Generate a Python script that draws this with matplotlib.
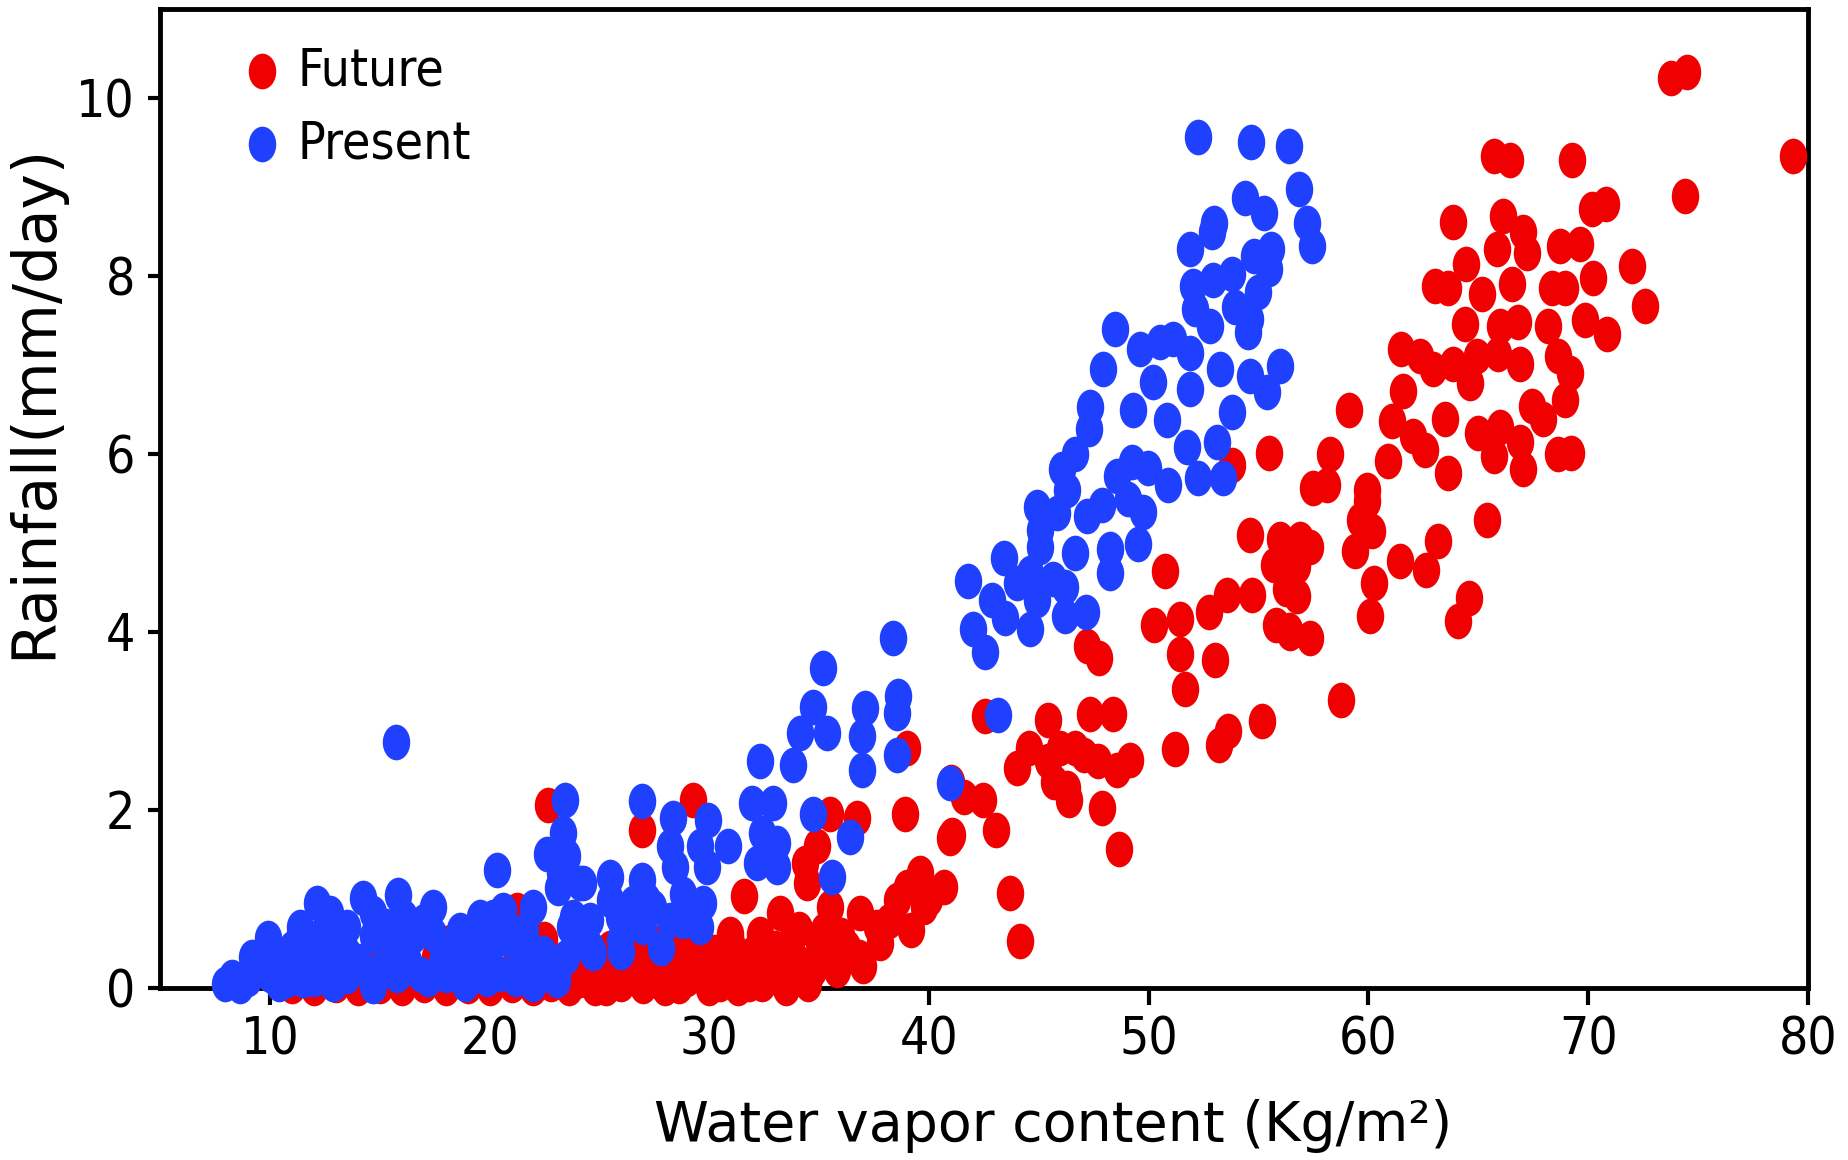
import numpy as np
import matplotlib
matplotlib.use("Agg")
import matplotlib.pyplot as plt
from matplotlib.path import Path
from matplotlib.transforms import Affine2D

# Future run: water vapour content (kg/m2) and rainfall (mm/day)
future_wv = [
    73.76, 74.49, 79.34, 74.41, 65.69, 66.44, 69.25, 63.86, 70.16, 70.81,
    66.14, 67.05, 65.84, 67.20, 64.44, 68.72, 69.63, 71.98, 63.03, 63.64,
    65.15, 66.52, 68.34, 68.95, 70.24, 72.59, 64.37, 65.99, 66.82, 68.19,
    69.86, 70.84, 61.47, 62.35, 62.95, 63.86, 64.93, 65.91, 66.90, 68.64,
    69.18, 64.62, 61.59, 68.95, 67.43, 67.96, 59.13, 61.06, 62.04, 63.49,
    62.57, 65.00, 65.99, 66.90, 65.69, 67.05, 68.64, 69.20, 60.91, 63.64,
    58.25, 59.92, 55.45, 53.78, 57.49, 58.10, 59.95, 59.62, 54.61, 55.98,
    56.89, 60.15, 59.39, 57.34, 56.73, 56.73, 56.43, 57.34, 60.25, 60.07,
    61.44, 63.18, 62.62, 65.38, 64.59, 64.09, 58.75, 54.72, 53.54, 52.74,
    51.40, 50.22, 50.76, 53.00, 51.40, 51.67, 55.69, 56.50, 55.80, 56.39,
    56.23, 55.16, 42.54, 40.98, 41.59, 42.46, 43.07, 41.04, 43.68, 44.16,
    40.02, 34.09, 33.90, 47.20, 47.75, 53.60, 53.20, 51.20, 49.16, 48.55,
    47.85, 48.64, 45.42, 44.02, 44.55, 45.42, 45.94, 46.64, 45.68, 46.38,
    46.29, 47.07, 47.68, 47.33, 48.39, 29.28, 26.93, 39.00, 35.50, 36.71,
    38.91, 40.96, 34.89, 34.36, 34.44, 31.56, 39.60, 40.66, 38.99, 38.54,
    39.75, 33.23, 35.50, 36.87, 37.63, 32.31, 33.83, 35.20, 36.26, 37.78,
    30.95, 31.10, 30.49, 29.28, 28.37, 27.76, 26.55, 25.49, 24.12, 26.85,
    33.23, 33.98, 35.35, 29.89, 32.01, 22.68, 16.68, 11.37, 21.24, 19.87,
    11.00, 12.00, 13.00, 14.00, 15.00, 16.00, 17.00, 18.00, 19.00, 20.00,
    21.00, 22.00, 22.80, 23.60, 25.30, 27.00, 27.80, 28.60, 12.50, 14.50,
    17.50, 19.00, 21.00, 23.00, 24.00, 25.50, 26.50, 27.50, 18.00, 22.50,
    31.80, 32.80, 34.70, 24.80, 26.00, 28.00, 29.00, 30.00, 31.30, 32.40,
    33.50, 34.50, 35.80, 36.80, 24.40, 25.90, 27.20, 28.80, 30.20, 31.80,
    33.00, 34.00, 35.00, 36.00, 37.00, 38.20, 39.20, 23.20, 29.50, 31.00,
]
future_rain = [
    10.22, 10.29, 9.35, 8.90, 9.35, 9.30, 9.30, 8.61, 8.75, 8.81,
    8.68, 8.49, 8.30, 8.26, 8.13, 8.34, 8.36, 8.11, 7.89, 7.87,
    7.80, 7.91, 7.87, 7.87, 7.98, 7.66, 7.46, 7.44, 7.48, 7.44,
    7.51, 7.35, 7.18, 7.10, 6.95, 7.01, 7.10, 7.12, 7.01, 7.10,
    6.91, 6.80, 6.71, 6.61, 6.54, 6.39, 6.50, 6.37, 6.20, 6.39,
    6.05, 6.24, 6.30, 6.13, 5.98, 5.83, 6.00, 6.01, 5.92, 5.79,
    6.00, 5.60, 6.01, 5.88, 5.62, 5.65, 5.47, 5.26, 5.09, 5.05,
    5.05, 5.13, 4.91, 4.96, 4.74, 4.40, 3.99, 3.93, 4.55, 4.18,
    4.80, 5.02, 4.70, 5.26, 4.38, 4.12, 3.24, 4.42, 4.42, 4.22,
    4.15, 4.08, 4.68, 3.69, 3.75, 3.36, 4.75, 4.81, 4.08, 4.02,
    4.48, 3.00, 3.06, 2.31, 2.15, 2.11, 1.77, 1.72, 1.07, 0.53,
    1.00, 0.66, 0.25, 3.84, 3.71, 2.89, 2.73, 2.69, 2.56, 2.45,
    2.02, 1.56, 3.01, 2.47, 2.70, 2.55, 2.70, 2.70, 2.32, 2.11,
    2.25, 2.62, 2.55, 3.08, 3.08, 2.11, 1.78, 2.70, 1.96, 1.91,
    1.95, 1.68, 1.59, 1.40, 1.18, 1.03, 1.29, 1.14, 1.14, 0.99,
    0.91, 0.84, 0.91, 0.84, 0.69, 0.61, 0.58, 0.65, 0.46, 0.50,
    0.61, 0.31, 0.05, 0.31, 0.54, 0.24, 0.31, 0.13, 0.09, 0.16,
    0.31, 0.13, 0.39, 0.16, 0.39, 2.06, 0.69, 0.61, 0.88, 0.54,
    0.02, 0.00, 0.03, 0.00, 0.02, 0.00, 0.03, 0.00, 0.02, 0.00,
    0.03, 0.00, 0.05, 0.00, 0.00, 0.02, 0.06, 0.02, 0.25, 0.30,
    0.35, 0.25, 0.20, 0.30, 0.40, 0.45, 0.60, 0.50, 0.50, 0.55,
    0.05, 0.12, 0.20, 0.00, 0.05, 0.00, 0.10, 0.00, 0.00, 0.05,
    0.00, 0.05, 0.20, 0.35, 0.25, 0.30, 0.40, 0.35, 0.40, 0.35,
    0.45, 0.30, 0.50, 0.60, 0.25, 0.75, 0.65, 0.15, 0.55, 0.50,
]

# Present run
present_wv = [
    52.25, 54.66, 56.37, 56.83, 54.39, 55.26, 57.21, 57.42, 52.99, 52.90,
    51.90, 55.57, 55.45, 54.77, 53.78, 52.00, 52.94, 54.99, 52.11, 53.93,
    54.61, 52.79, 48.47, 54.53, 50.52, 49.61, 51.12, 51.88, 47.94, 55.98,
    54.61, 53.25, 50.21, 51.88, 55.37, 47.33, 49.30, 50.82, 53.78, 51.73,
    53.10, 52.26, 53.37, 49.23, 49.98, 50.89, 49.76, 49.07, 49.53,
    47.26, 46.65, 46.04, 46.27, 44.90, 45.81, 47.18, 47.86, 48.55, 45.06,
    45.06, 43.39, 46.65, 48.24, 48.24, 41.79, 44.60, 45.66, 44.00, 46.19,
    42.86, 44.90, 43.46, 44.60, 42.02, 46.19, 47.15, 42.55, 38.38, 35.19,
    34.74, 37.09, 38.61, 43.16,
    23.44, 23.36, 23.51, 23.21, 26.93, 28.37, 29.96, 28.22, 29.58, 30.87,
    29.89, 28.45, 32.31, 34.14, 35.35, 33.83, 38.54, 36.94, 36.94, 38.54,
    31.93, 32.92, 34.74, 36.41, 32.39, 33.07, 32.16, 33.07, 35.58, 40.96,
    25.49, 26.93, 24.12, 28.82, 29.73, 28.22, 29.58, 27.00, 25.49, 23.82,
    24.58, 25.87, 27.16,
    15.73, 22.60, 24.27, 23.13, 20.36, 21.99, 20.17, 20.63, 23.66, 24.57,
    24.73, 23.06, 21.69, 20.48, 19.26, 18.66, 17.44, 15.85, 14.26, 14.71,
    12.13, 12.74, 11.37, 9.93, 9.55, 7.96, 8.64, 10.77, 11.83, 13.50,
    12.89, 14.71, 15.62, 16.84, 16.53, 17.90, 14.71, 13.50, 12.28, 21.39,
    22.45, 25.94, 26.55, 27.46, 19.57, 11.52, 13.50, 17.44, 18.35, 19.87,
    9.00, 10.20, 13.00, 15.00, 16.00, 18.90, 20.00, 22.00, 17.20, 11.00,
    8.30, 9.20, 10.00, 10.80, 11.50, 12.50, 13.20, 14.00, 15.30, 16.30,
    17.00, 18.00, 18.80, 19.50, 20.80, 21.60, 22.30, 23.50, 26.00, 27.80,
    28.80, 26.50, 10.40, 12.00, 15.80, 19.90, 21.20, 24.30, 17.80, 16.10,
]
present_rain = [
    9.56, 9.51, 9.46, 8.98, 8.88, 8.71, 8.60, 8.34, 8.60, 8.49,
    8.30, 8.30, 8.08, 8.22, 8.02, 7.89, 7.96, 7.82, 7.63, 7.65,
    7.52, 7.44, 7.40, 7.37, 7.26, 7.18, 7.29, 7.14, 6.96, 6.99,
    6.88, 6.96, 6.81, 6.73, 6.70, 6.53, 6.49, 6.38, 6.47, 6.08,
    6.14, 5.73, 5.73, 5.91, 5.84, 5.65, 5.35, 5.50, 4.99,
    6.28, 6.00, 5.83, 5.60, 5.40, 5.34, 5.30, 5.43, 5.75, 5.15,
    4.96, 4.83, 4.89, 4.93, 4.66, 4.57, 4.66, 4.59, 4.55, 4.51,
    4.36, 4.36, 4.16, 4.03, 4.03, 4.18, 4.23, 3.78, 3.93, 3.60,
    3.16, 3.15, 3.28, 3.07,
    2.11, 1.74, 1.48, 1.29, 2.10, 1.91, 1.89, 1.59, 1.59, 1.59,
    1.36, 1.36, 2.55, 2.86, 2.86, 2.51, 3.09, 2.83, 2.45, 2.62,
    2.08, 2.08, 1.96, 1.70, 1.74, 1.63, 1.40, 1.36, 1.25, 2.30,
    1.25, 1.21, 1.18, 1.06, 0.95, 0.76, 0.69, 0.69, 0.99, 0.80,
    0.46, 0.80, 0.99,
    2.76, 1.51, 1.18, 1.12, 1.33, 0.91, 0.80, 0.88, 0.69, 0.76,
    0.39, 0.09, 0.24, 0.16, 0.13, 0.65, 0.91, 1.05, 1.01, 0.84,
    0.95, 0.84, 0.69, 0.56, 0.24, 0.05, 0.02, 0.09, 0.31, 0.39,
    0.05, 0.02, 0.39, 0.16, 0.58, 0.39, 0.58, 0.69, 0.58, 0.39,
    0.39, 0.54, 0.95, 0.91, 0.80, 0.09, 0.13, 0.61, 0.24, 0.31,
    0.10, 0.30, 0.30, 0.20, 0.45, 0.05, 0.45, 0.05, 0.10, 0.45,
    0.12, 0.35, 0.15, 0.35, 0.50, 0.20, 0.55, 0.30, 0.70, 0.30,
    0.75, 0.15, 0.45, 0.60, 0.55, 0.65, 0.20, 0.35, 0.40, 0.45,
    0.75, 0.75, 0.05, 0.10, 0.15, 0.10, 0.10, 0.60, 0.25, 0.80,
]

x_ticks = [10, 20, 30, 40, 50, 60, 70, 80]
y_ticks = [0, 2, 4, 6, 8, 10]

RED = "#f00000"
BLUE = "#2040ff"

fig = plt.figure(figsize=(18.49, 11.6), dpi=100)
ax = fig.add_axes([0.0865, 0.1483, 0.8913, 0.8439])

# tall oval marker like the original
oval = Affine2D().scale(0.77, 1.0).transform_path(Path.unit_circle())
msize = 660

ax.scatter(future_wv, future_rain, s=msize, marker=oval, color=RED,
           linewidths=0, clip_on=False, zorder=3)
ax.scatter(present_wv, present_rain, s=msize, marker=oval, color=BLUE,
           linewidths=0, clip_on=False, zorder=4)

ax.set_xlim(5, 80)
ax.set_ylim(0, 11)
ax.set_xticks(x_ticks)
ax.set_yticks(y_ticks)

for sp in ax.spines.values():
    sp.set_linewidth(3.5)
ax.tick_params(axis="x", direction="out", length=12, width=3, pad=8)
ax.tick_params(axis="y", direction="out", length=9, width=3, pad=9)
for lab in ax.get_xticklabels() + ax.get_yticklabels():
    lab.set_fontsize(37)
    lab.set_fontstretch("condensed")

ax.set_xlabel("Water vapor content (Kg/m²)", fontsize=40, va="center")
ax.xaxis.set_label_coords(0.542, -0.141)
ax.set_ylabel("Rainfall(mm/day)", fontsize=43, va="center")
ax.yaxis.set_label_coords(-0.076, 0.599)

# legend drawn by hand to sit where the original has it
leg_y = [0.9367, 0.862]
for yy, lab, col in zip(leg_y, ["Future", "Present"], [RED, BLUE]):
    ax.scatter([0.0619], [yy], s=msize, marker=oval, color=col,
               linewidths=0, transform=ax.transAxes, zorder=5)
    ax.text(0.0837, yy, lab, transform=ax.transAxes, va="center",
            ha="left", fontsize=37, fontstretch="condensed")

fig.savefig("out.png", dpi=100)
